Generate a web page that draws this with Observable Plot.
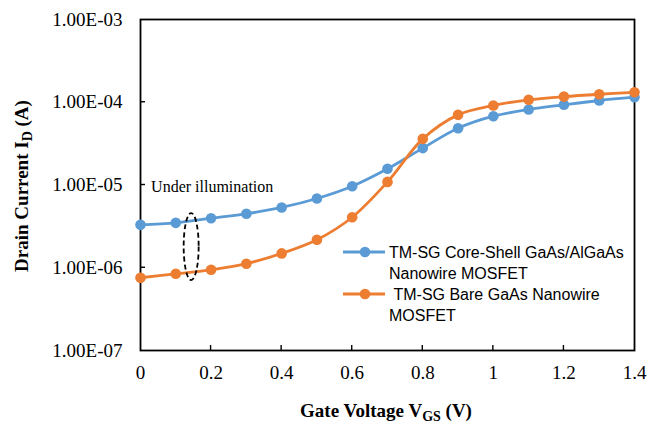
<!DOCTYPE html>
<html>
<head>
<meta charset="utf-8">
<script src="https://cdn.jsdelivr.net/npm/d3@7"></script>
<script src="https://cdn.jsdelivr.net/npm/@observablehq/plot@0.6"></script>
<style>
  html, body { margin: 0; padding: 0; background: #fff; }
  #chart { width: 649px; height: 425px; }
</style>
</head>
<body>
<div id="chart"></div>
<script>
// ---- data ----
const vgs = [0, 0.1, 0.2, 0.3, 0.4, 0.5, 0.6, 0.7, 0.8, 0.9, 1.0, 1.1, 1.2, 1.3, 1.4];
const coreShell = [3.30e-6, 3.49e-6, 3.97e-6, 4.49e-6, 5.35e-6, 6.87e-6, 9.66e-6, 1.57e-5, 2.79e-5, 4.85e-5, 6.78e-5, 8.17e-5, 9.31e-5, 1.05e-4, 1.15e-4];
const bare = [7.57e-7, 8.45e-7, 9.44e-7, 1.12e-6, 1.49e-6, 2.18e-6, 4.08e-6, 1.09e-5, 3.61e-5, 7.04e-5, 9.14e-5, 1.07e-4, 1.17e-4, 1.25e-4, 1.32e-4];
const seriesNames = ["TM-SG Core-Shell GaAs/AlGaAs Nanowire MOSFET", "TM-SG Bare GaAs Nanowire MOSFET"];
const legendLines = [["TM-SG Core-Shell GaAs/AlGaAs", "Nanowire MOSFET"], ["\u00a0TM-SG Bare GaAs Nanowire", "MOSFET"]];
const seriesColors = ["#5B9BD5", "#ED7D31"];
const yTicks = [1e-7, 1e-6, 1e-5, 1e-4, 1e-3];
const yTickLabels = ["1.00E-07", "1.00E-06", "1.00E-05", "1.00E-04", "1.00E-03"];
const xTicks = [0, 0.2, 0.4, 0.6, 0.8, 1, 1.2, 1.4];
const xTickLabels = ["0", "0.2", "0.4", "0.6", "0.8", "1", "1.2", "1.4"];
const annotationText = "Under illumination";
const annotationTextPos = {x: 0.03, y: 9.6e-6};
const ellipseCenter = {x: 0.145, y: 1.78e-6};

const rows = [];
vgs.forEach((v, i) => {
  rows.push({series: seriesNames[0], x: v, y: coreShell[i]});
});
vgs.forEach((v, i) => {
  rows.push({series: seriesNames[1], x: v, y: bare[i]});
});
const yLabelMap = new Map(yTicks.map((t, i) => [t, yTickLabels[i]]));
const xLabelMap = new Map(xTicks.map((t, i) => [t, xTickLabels[i]]));

const serif = "'Liberation Serif', 'Times New Roman', serif";
const sans = "'Liberation Sans', Arial, sans-serif";

const plot = Plot.plot({
  width: 649,
  height: 425,
  marginLeft: 140,
  marginRight: 15,
  marginTop: 19,
  marginBottom: 75,
  style: {fontFamily: serif, fontSize: "19px", color: "#000", background: "#fff"},
  x: {domain: [0, 1.4]},
  y: {type: "log", domain: [1e-7, 1e-3]},
  color: {domain: seriesNames, range: seriesColors},
  marks: [
    Plot.axisY(yTicks, {tickSize: 0, tickPadding: 18, tickFormat: d => yLabelMap.get(d), label: null, fontSize: 19}),
    Plot.axisX(xTicks, {tickSize: 0, tickPadding: 15, tickFormat: d => xLabelMap.get(d), label: null, fontSize: 19}),
    Plot.frame({stroke: "#000", strokeWidth: 1.8}),
    Plot.line(rows, {x: "x", y: "y", stroke: "series", z: "series", curve: "catmull-rom", strokeWidth: 2.8}),
    Plot.dot(rows, {x: "x", y: "y", fill: "series", r: 5.3}),
    Plot.text([annotationTextPos], {x: "x", y: "y", text: () => annotationText, textAnchor: "start", fontSize: 16, fontFamily: serif, fill: "#000"})
  ]
});
document.getElementById("chart").appendChild(plot);

const svg = d3.select(plot);
const sx = plot.scale("x"), sy = plot.scale("y");
const px = v => sx.apply(v), py = v => sy.apply(v);

// inward tick marks
const tickG = svg.append("g").attr("stroke", "#000").attr("stroke-width", 1.4);
yTicks.slice(1, -1).forEach(t => {
  tickG.append("line").attr("x1", px(0)).attr("x2", px(0) + 5).attr("y1", py(t)).attr("y2", py(t));
});
xTicks.slice(1, -1).forEach(t => {
  tickG.append("line").attr("x1", px(t)).attr("x2", px(t)).attr("y1", py(1e-7)).attr("y2", py(1e-7) - 5);
});

// dashed ellipse annotation
svg.append("ellipse")
  .attr("cx", px(ellipseCenter.x)).attr("cy", py(ellipseCenter.y))
  .attr("rx", 7.5).attr("ry", 33.5)
  .attr("fill", "none").attr("stroke", "#000").attr("stroke-width", 1.8)
  .attr("stroke-dasharray", "5,3");

// axis titles with subscripts
const xt = svg.append("text")
  .attr("x", 386).attr("y", 417)
  .attr("text-anchor", "middle")
  .attr("font-family", serif).attr("font-weight", "bold").attr("font-size", 19).attr("fill", "#000");
xt.append("tspan").text("Gate Voltage V");
xt.append("tspan").attr("font-size", 14).attr("dy", 4).text("GS");
xt.append("tspan").attr("dy", -4).text(" (V)");

const yt = svg.append("text")
  .attr("transform", "translate(28,186) rotate(-90)")
  .attr("text-anchor", "middle")
  .attr("font-family", serif).attr("font-weight", "bold").attr("font-size", 19).attr("fill", "#000");
yt.append("tspan").text("Drain Current I");
yt.append("tspan").attr("font-size", 14).attr("dy", 4).text("D");
yt.append("tspan").attr("dy", -4).text(" (A)");

// legend
const legendRowY = [[252, 273], [294, 315]];
legendLines.forEach((lines, i) => {
  const g = svg.append("g");
  const y0 = legendRowY[i][0];
  g.append("line").attr("x1", 343).attr("x2", 385).attr("y1", y0).attr("y2", y0)
    .attr("stroke", seriesColors[i]).attr("stroke-width", 2.8);
  g.append("circle").attr("cx", 365).attr("cy", y0).attr("r", 5.3).attr("fill", seriesColors[i]);
  lines.forEach((t, j) => {
    g.append("text").attr("x", 389).attr("y", legendRowY[i][j]).attr("dy", "0.35em")
      .attr("text-anchor", "start")
      .attr("font-family", sans).attr("font-size", 16).attr("fill", "#000")
      .style("white-space", "pre").text(t);
  });
});
</script>
</body>
</html>
